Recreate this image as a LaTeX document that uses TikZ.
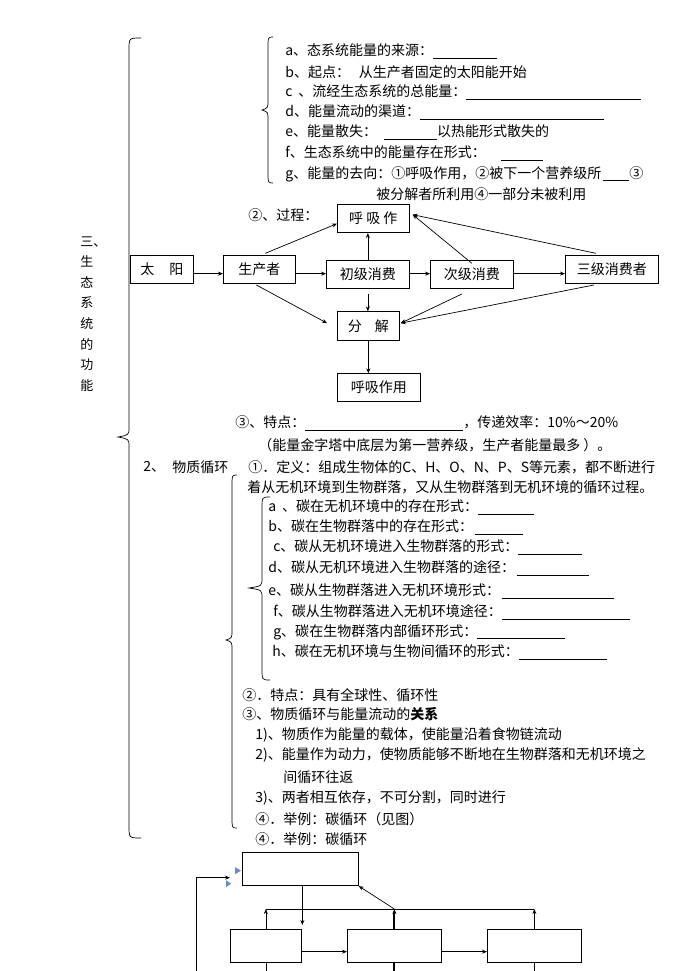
\documentclass[tikz,border=0pt]{standalone}
\usepackage{fontspec}
\setmainfont{Noto Sans CJK SC}
\usetikzlibrary{arrows.meta, positioning, calc}
\definecolor{markblue}{RGB}{100,140,190}
\newcommand{\blank}[1]{\rule[-2.5pt]{#1}{0.6pt}}
\newcommand{\curlybrace}[6]{%
	\draw (#1,#4) .. controls (#2,#4) .. (#2,#4+12) -- (#2,#5-10)
	.. controls (#2,#5-2) .. (#3,#5) .. controls (#2,#5+2) .. (#2,#5+10)
	-- (#2,#6-12) .. controls (#2,#6) .. (#1,#6);}

\begin{document}
\begin{tikzpicture}[x=1pt, y=-1pt, line width=0.7pt, >={Stealth[length=5pt,width=4pt]},
	font=\fontsize{14}{20.5}\selectfont,
	box/.style={draw, inner sep=0pt, anchor=south west},
	txt/.style={anchor=west, inner sep=0pt}]
		\useasboundingbox (0,0) rectangle (688,971);

		% braces
		\curlybrace{141}{129}{118}{38}{437}{838}
		\curlybrace{273}{268}{262}{37}{110}{183}
		\curlybrace{237}{232}{226}{475}{640}{828}
		\curlybrace{270}{262}{249}{497}{588}{680}

		\node[anchor=north west, align=left, inner sep=0pt, font=\fontsize{13}{20.6}\selectfont] (TITLE) at (80,236) {三、\\生\\态\\系\\统\\的\\功\\能};

		% energy flow
		\node[txt] (EA) at (285,51) {a、态系统能量的来源：\blank{64pt}};
		\node[txt] (EB) at (285,72) {b、起点：\hspace{9pt}从生产者固定的太阳能开始};
		\node[txt] (EC) at (285,92) {c\hspace{6pt}、流经生态系统的总能量：\blank{175pt}};
		\node[txt] (ED) at (285,112) {d、能量流动的渠道：\blank{184pt}};
		\node[txt] (EE) at (285,132) {e、能量散失：\hspace{7pt}\blank{53pt}以热能形式散失的};
		\node[txt] (EF) at (285,153) {f、生态系统中的能量存在形式：\hspace{15pt}\blank{42pt}};
		\node[txt] (EG) at (285,174) {g、能量的去向：①呼吸作用，②被下一个营养级所\hspace{2pt}\blank{26pt}③};
		\node[txt] (EH) at (376,194) {被分解者所利用④一部分未被利用};
		\node[txt] (PROC) at (248,215) {②、过程：};

		\node[box, minimum width=72pt, minimum height=28pt] (RES1) at (337,233) {呼 吸 作};
		\node[box, minimum width=63pt, minimum height=28pt] (SUN) at (130,284) {太\hspace{15pt}阳};
		\node[box, minimum width=72pt, minimum height=28pt] (PRO) at (223,284) {生产者};
		\node[box, minimum width=83pt, minimum height=28pt] (C1) at (326,289) {初级消费};
		\node[box, minimum width=83pt, minimum height=28pt] (C2) at (430,289) {次级消费};
		\node[box, minimum width=93pt, minimum height=28pt] (C3) at (565,284) {三级消费者};
		\node[box, minimum width=62pt, minimum height=29pt] (DEC) at (337,341) {分\hspace{13pt}解};
		\node[box, minimum width=83pt, minimum height=28pt] (RES2) at (337,402) {呼吸作用};

		\draw[->] ($(SUN.east)+(0,4)$) -- ($(PRO.west)+(0,4)$);
		\draw[->] ($(PRO.east)+(0,4)$) -- ($(C1.west)+(0,-1)$);
		\draw[->] ($(C1.east)+(0,-1)$) -- ($(C2.west)+(0,-1)$);
		\draw[->] ($(C2.east)+(0,-1)$) -- ($(C3.west)+(0,4)$);
		\draw[->] ($(PRO.north)+(6,-2)$) -- ($(RES1.west)+(0,5)$);
		\draw[->] ($(PRO.south)+(-3,1)$) -- ($(DEC.west)+(-10,-3)$);
		\draw[->] (C1.north) -- (C1.north|-RES1.south);
		\draw[->] ($(C1.south)+(0,5)$) -- (C1.south|-DEC.north);
		\draw[->] ($(C2.north)+(0,3)$) -- ($(RES1.east)+(3,-4)$);
		\draw[->] ($(C3.north)+(-16,-2)$) -- ($(RES1.east)+(3,-4)$);
		\draw[->] ($(C2.south)+(-10,5)$) -- ($(DEC.east)+(1,-3)$);
		\draw[->] ($(C3.south)+(-18,1)$) -- ($(DEC.east)+(1,-3)$);
		\draw[->] (DEC.south) -- (DEC.south|-RES2.north);

		\node[txt] (FEAT) at (235,423) {③、特点：\blank{158pt}，传递效率：10\%～20\%};
		\node[txt] (PYR) at (258,445) {（能量金字塔中底层为第一营养级，生产者能量最多 ）。};

		% matter cycle
		\node[txt] (SEC) at (143,467) {2、};
		\node[txt] (MAT) at (172,467) {物质循环};
		\node[txt] (DEF1) at (248,467) {①．定义：组成生物体的C、H、O、N、P、S等元素，都不断进行};
		\node[txt] (DEF2) at (247,487) {着从无机环境到生物群落，又从生物群落到无机环境的循环过程。};

		\node[txt] (CA) at (268,507) {a\hspace{6pt}、碳在无机环境中的存在形式：\blank{56pt}};
		\node[txt] (CB) at (268,527) {b、碳在生物群落中的存在形式：\hspace{2pt}\blank{48pt}};
		\node[txt] (CC) at (273,547) {c、碳从无机环境进入生物群落的形式：\blank{64pt}};
		\node[txt] (CD) at (268,568) {d、碳从无机环境进入生物群落的途径：\hspace{2pt}\blank{72pt}};
		\node[txt] (CE) at (268,591) {e、碳从生物群落进入无机环境形式：\hspace{2pt}\blank{112pt}};
		\node[txt] (CF) at (273,612) {f、碳从生物群落进入无机环境途径：\blank{128pt}};
		\node[txt] (CG) at (273,632) {g、碳在生物群落内部循环形式：\blank{88pt}};
		\node[txt] (CH) at (272,652) {h、碳在无机环境与生物间循环的形式：\blank{88pt}};

		\node[txt] (FEAT2) at (242,695) {②．特点：具有全球性、循环性};
		\node[txt] (REL) at (242,714) {③、物质循环与能量流动的\textbf{关系}};
		\node[txt] (REL1) at (255,735) {1)、物质作为能量的载体，使能量沿着食物链流动};
		\node[txt] (REL2) at (255,755) {2)、能量作为动力，使物质能够不断地在生物群落和无机环境之};
		\node[txt] (REL2B) at (283,777) {间循环往返};
		\node[txt] (REL3) at (255,798) {3)、两者相互依存，不可分割，同时进行};
		\node[txt] (EX1) at (255,819) {④．举例：碳循环（见图）};
		\node[txt] (EX2) at (255,839) {④．举例：碳循环};

		% carbon cycle
		\coordinate (bar)    at (0,909);
		\coordinate (bottom) at (0,971);
		\coordinate (loop)   at (196,971);

		\node[box, minimum width=116pt, minimum height=33pt] (TOP) at (242,886) {};
		\node[box, minimum width=71pt, minimum height=33pt] (LB) at (230,963) {};
		\node[box, minimum width=94pt, minimum height=33pt] (MB) at (347,963) {};
		\node[box, minimum width=94pt, minimum height=33pt] (RB) at (487,963) {};

		\fill[markblue] ($(TOP.west)+(-7,-2)$) -- ++(6,3.5) -- ++(-6,3.5) -- cycle;
		\fill[markblue] ($(TOP.west)+(-16,11)$) -- ++(5,3.5) -- ++(-5,3.5) -- cycle;

		\draw[->] (loop) |- ($(TOP.west)+(-12,8.5)$);
		\draw[->] ($(TOP.south)+(2,0)$) -- ++(0,39);
		\draw[->] ($(LB.east)+(0,5.5)$) -- ($(MB.west)+(0,5.5)$);
		\draw[->] ($(MB.east)+(0,5.5)$) -- ($(RB.west)+(0,5.5)$);
		\draw (LB.north|-bar) -- (RB.north|-bar);
		\draw[->] (LB.north) -- (LB.north|-bar);
		\draw[->, line width=2pt] (MB.north) -- (MB.north|-bar);
		\draw[->] (RB.north) -- (RB.north|-bar);
		\draw[->] (MB.north|-bar) -- (TOP.south east);
		\draw (LB.south) -- (LB.south|-bottom);
		\draw[line width=2pt] (MB.south) -- (MB.south|-bottom);
		\draw (RB.south) -- (RB.south|-bottom);
\end{tikzpicture}
\end{document}
